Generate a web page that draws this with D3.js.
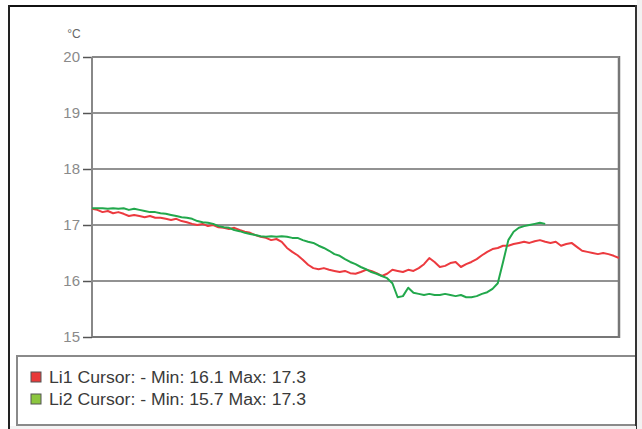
<!DOCTYPE html>
<html><head><meta charset="utf-8">
<script src="https://cdn.jsdelivr.net/npm/d3@7"></script>
<style>html,body{margin:0;padding:0;background:#fff;}svg{display:block;}</style>
</head><body>
<script>
// ---- data ----
const yTicks = [15, 16, 17, 18, 19, 20];
const unitLabel = "°C";
const li1 = [17.29,17.27,17.23,17.25,17.21,17.23,17.20,17.16,17.18,17.16,17.14,17.16,17.13,17.13,17.11,17.09,17.11,17.07,17.05,17.02,
17.00,17.02,16.98,17.00,16.96,16.95,16.93,16.95,16.91,16.88,16.86,16.82,16.79,16.77,16.73,16.75,16.70,16.59,16.52,16.46,
16.38,16.29,16.23,16.21,16.23,16.20,16.18,16.16,16.18,16.14,16.13,16.16,16.20,16.18,16.14,16.09,16.13,16.20,16.18,16.16,
16.20,16.18,16.23,16.30,16.41,16.34,16.25,16.27,16.32,16.34,16.25,16.30,16.34,16.39,16.46,16.52,16.57,16.59,16.63,16.63,
16.66,16.68,16.70,16.68,16.71,16.73,16.70,16.68,16.70,16.63,16.66,16.68,16.61,16.54,16.52,16.50,16.48,16.50,16.48,16.45,16.41];
const li2 = [17.30,17.30,17.30,17.29,17.30,17.29,17.30,17.27,17.29,17.27,17.25,17.23,17.23,17.21,17.20,17.18,17.16,17.14,17.13,17.11,
17.07,17.05,17.04,17.02,16.98,16.96,16.95,16.91,16.89,16.86,16.84,16.82,16.80,16.79,16.80,16.79,16.80,16.79,16.77,16.77,
16.73,16.70,16.68,16.63,16.59,16.54,16.48,16.45,16.39,16.34,16.30,16.25,16.21,16.16,16.13,16.09,16.05,15.96,15.71,15.73,
15.88,15.79,15.77,15.75,15.77,15.75,15.75,15.77,15.75,15.73,15.75,15.71,15.71,15.73,15.77,15.80,15.86,15.96,16.34,16.73,
16.88,16.95,16.98,17.00,17.02,17.04,17.02];
const seriesNames = ["Li1", "Li2"];
const seriesColors = ["#ec3a3f", "#22a84c"];
const legendColors = ["#e83a3a", "#8cc63f"];
const legendTexts = ["Li1 Cursor: - Min: 16.1 Max: 17.3", "Li2 Cursor: - Min: 15.7 Max: 17.3"];

// ---- layout ----
const W = 642, H = 429;
const svg = d3.select("body").append("svg").attr("width", W).attr("height", H);
svg.append("rect").attr("x",0).attr("y",0).attr("width",W).attr("height",H).attr("fill","#fff");

// outer frame
svg.append("line").attr("x1",9).attr("x2",637).attr("y1",6).attr("y2",6).attr("stroke","#111").attr("stroke-width",2);
svg.append("line").attr("x1",9).attr("x2",9).attr("y1",5).attr("y2",H).attr("stroke","#222").attr("stroke-width",2);

const L = 92, R = 619, T = 57, B = 337;
const y = d3.scaleLinear().domain([15, 20]).range([B, T]);
const x = d3.scaleLinear().domain([0, 100]).range([L, R]);

// gridlines
svg.append("g").selectAll("line").data(yTicks).join("line")
  .attr("x1", L).attr("x2", R).attr("y1", d => y(d)).attr("y2", d => y(d))
  .attr("stroke", "#929292").attr("stroke-width", 2);

// y axis with ticks
const yAxis = d3.axisLeft(y).tickValues(yTicks).tickSize(9).tickPadding(3).tickFormat(d3.format("d"));
const ag = svg.append("g").attr("transform", `translate(${L},0)`).call(yAxis);
ag.select(".domain").remove();
ag.selectAll(".tick line").attr("stroke", "#555").attr("stroke-width", 1.5);
ag.selectAll(".tick text").attr("fill", "#8a8a8a").style("font-family", "Liberation Sans, Arial, sans-serif").style("font-size", "15px");

svg.append("text").attr("x", 74).attr("y", 38).attr("text-anchor", "middle")
  .style("font-family", "Liberation Sans, Arial, sans-serif").style("font-size", "12px").attr("fill", "#666").text(unitLabel);

// plot frame
svg.append("line").attr("x1",L).attr("x2",L).attr("y1",T).attr("y2",B).attr("stroke","#888").attr("stroke-width",2);
svg.append("line").attr("x1",R).attr("x2",R).attr("y1",T-1).attr("y2",B+1).attr("stroke","#777").attr("stroke-width",2.5);
svg.append("line").attr("x1",L).attr("x2",R).attr("y1",B).attr("y2",B).attr("stroke","#777").attr("stroke-width",2);
svg.append("line").attr("x1",L).attr("x2",R).attr("y1",T).attr("y2",T).attr("stroke","#888").attr("stroke-width",2);

// lines
const line = d3.line().x((d, i) => x(i)).y(d => y(d)).curve(d3.curveLinear);
[li1, li2].forEach((s, k) => {
  svg.append("path").datum(s).attr("d", line).attr("fill", "none")
    .attr("stroke", seriesColors[k]).attr("stroke-width", 2).attr("stroke-linejoin", "round");
});

// legend
svg.append("rect").attr("x", 17).attr("y", 356).attr("width", 640).attr("height", 69)
  .attr("fill", "#fff").attr("stroke", "#8a8a8a").attr("stroke-width", 2);
svg.append("line").attr("x1",636).attr("x2",636).attr("y1",5).attr("y2",H).attr("stroke","#333").attr("stroke-width",2);
svg.append("rect").attr("x",637).attr("y",0).attr("width",5).attr("height",H).attr("fill","#f2f2f2");
svg.append("rect").attr("x",10).attr("y",426).attr("width",626).attr("height",3).attr("fill","#f4f4f4");

const lg = svg.append("g").selectAll("g").data(legendTexts).join("g")
  .attr("transform", (d, i) => `translate(31,${372 + i * 22})`);
lg.append("rect").attr("width", 10).attr("height", 10).attr("fill", (d, i) => legendColors[i])
  .attr("stroke", "#555").attr("stroke-width", 1);
lg.append("text").attr("x", 18).attr("y", 11).attr("fill", "#3a3a3a")
  .style("font-family", "Liberation Sans, Arial, sans-serif").style("font-size", "16px")
  .attr("textLength", 257).attr("lengthAdjust", "spacingAndGlyphs").text(d => d);
</script>
</body></html>
